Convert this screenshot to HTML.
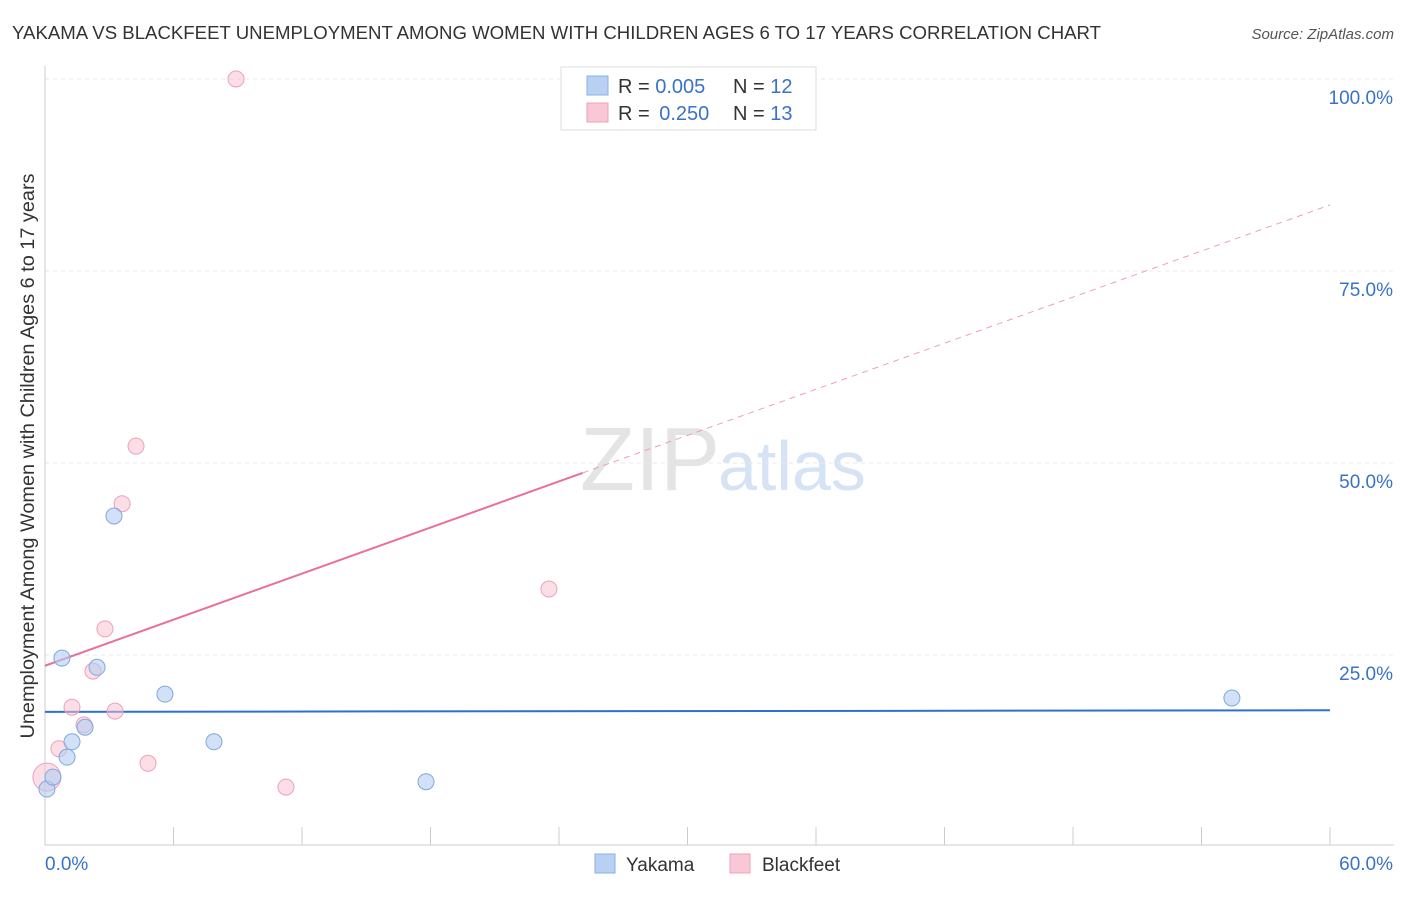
<!DOCTYPE html>
<html><head><meta charset="utf-8"><style>
body{margin:0;background:#fff;font-family:"Liberation Sans",sans-serif;}
svg text{font-family:"Liberation Sans",sans-serif;}
</style></head><body>
<svg id="chart" width="1406" height="892" xmlns="http://www.w3.org/2000/svg">
<text x="12" y="39" font-size="18" fill="#333" textLength="1089" lengthAdjust="spacingAndGlyphs">YAKAMA VS BLACKFEET UNEMPLOYMENT AMONG WOMEN WITH CHILDREN AGES 6 TO 17 YEARS CORRELATION CHART</text>
<text x="1394" y="39" font-size="15" fill="#555" text-anchor="end" font-style="italic">Source: ZipAtlas.com</text>
<text x="720" y="490" font-size="90" fill="#e4e4e4" text-anchor="end" font-family="Liberation Serif">ZIP</text>
<text x="718" y="490" font-size="70" fill="#d6e3f5">atlas</text>
<text transform="translate(34,456) rotate(-90)" font-size="19" fill="#333" text-anchor="middle" textLength="565" lengthAdjust="spacingAndGlyphs">Unemployment Among Women with Children Ages 6 to 17 years</text>
<g id="grid"></g><g id="axes"></g><g id="lines"></g><g id="points"></g>
<g>
<rect x="561" y="67" width="255" height="63" fill="#fff" stroke="#ddd"/>
<rect x="587" y="76" width="21" height="19" fill="#b8d1f3" stroke="#8ab0e8"/>
<rect x="587" y="103" width="21" height="19" fill="#f9c8d6" stroke="#f0a0b8"/>
<text x="618" y="93" font-size="20" fill="#333">R = <tspan fill="#3a72c8">0.005</tspan></text>
<text x="733" y="93" font-size="20" fill="#333">N = <tspan fill="#3a72c8">12</tspan></text>
<text x="618" y="120" font-size="20" fill="#333">R = <tspan fill="#3a72c8" dx="4">0.250</tspan></text>
<text x="733" y="120" font-size="20" fill="#333">N = <tspan fill="#3a72c8">13</tspan></text>
</g>
<g>
<rect x="595" y="854" width="20" height="19" fill="#b8d1f3" stroke="#8ab0e8"/>
<text x="626" y="871" font-size="19" fill="#333">Yakama</text>
<rect x="730" y="854" width="20" height="19" fill="#f9c8d6" stroke="#f0a0b8"/>
<text x="762" y="871" font-size="19" fill="#333">Blackfeet</text>
</g>
</svg>
<script>
const yTicks=[25,50,75,100];
const yTickLabels=["25.0%","50.0%","75.0%","100.0%"];
const xLabels=["0.0%","60.0%"];
const yakamaX=[0.09,0.37,0.79,1.03,1.26,1.87,2.43,3.22,5.6,7.89,17.79,55.42];
const yakamaY=[7.55,9.1,24.6,11.7,13.7,15.6,23.4,43.1,19.9,13.7,8.5,19.4];
const blackX=[0.09,0.65,1.26,1.82,2.24,2.8,3.27,3.6,4.25,4.81,8.92,11.25,23.53];
const blackY=[9.1,12.8,18.2,15.9,22.9,28.4,17.7,44.7,52.2,10.9,100,7.8,33.6];
const yakamaTrend=[17.6,17.8];
const blackTrend=[23.6,83.6];
const blackSolidEnd=25.1;
const NS="http://www.w3.org/2000/svg";
const sx=v=>45+v/60*1285, sy=v=>847-v*7.68;
function mk(tag,attrs,parent){const e=document.createElementNS(NS,tag);for(const k in attrs)e.setAttribute(k,attrs[k]);document.getElementById(parent).appendChild(e);return e;}
yTicks.forEach((t,i)=>{
 const l=mk('line',{x1:45,x2:1394,y1:sy(t),y2:sy(t),stroke:'#e8e8e8','stroke-dasharray':'4,4'},'grid');
 
 
 const tx=mk('text',{x:1393,y:sy(t)+25,'font-size':19,fill:'#3a72c8','text-anchor':'end'},'axes');
 tx.textContent=yTickLabels[i];
 
 
});
const xa=mk('line',{x1:45,x2:1394,y1:845,y2:845,stroke:'#ccc'},'axes');


const ya=mk('line',{x1:45,x2:45,y1:66,y2:845,stroke:'#ccc'},'axes');


for(let i=1;i<=10;i++){const t=mk('line',{x1:sx(i*6),x2:sx(i*6),y1:827,y2:845,stroke:'#ccc'},'axes');
 
 }
[[0,'start',45],[60,'end',1393]].forEach((d,i)=>{const t=mk('text',{x:d[2],y:870,'font-size':19,fill:'#3a72c8','text-anchor':d[1]},'axes');t.textContent=xLabels[i];
 
 });
const yl=mk('line',{x1:sx(0),x2:sx(60),y1:sy(yakamaTrend[0]),y2:sy(yakamaTrend[1]),stroke:'#2f6fd0','stroke-width':2},'lines');


const bAt=x=>blackTrend[0]+(blackTrend[1]-blackTrend[0])*x/60;
const bl=mk('line',{x1:sx(0),x2:sx(blackSolidEnd),y1:sy(bAt(0)),y2:sy(bAt(blackSolidEnd)),stroke:'#e8709a','stroke-width':2},'lines');


const bd=mk('line',{x1:sx(blackSolidEnd),x2:sx(60),y1:sy(bAt(blackSolidEnd)),y2:sy(bAt(60)),stroke:'#eba0b8','stroke-width':1,'stroke-dasharray':'6,5'},'lines');


blackX.forEach((x,i)=>{const c=mk('circle',{cx:sx(x),cy:sy(blackY[i]),r:i==0?14:8,fill:'rgba(249,190,208,0.5)',stroke:'#f0a0b8'},'points');
 
 });
yakamaX.forEach((x,i)=>{const c=mk('circle',{cx:sx(x),cy:sy(yakamaY[i]),r:8,fill:'rgba(180,205,242,0.6)',stroke:'#7fa8e0'},'points');
 
 });
</script>
</body></html>
